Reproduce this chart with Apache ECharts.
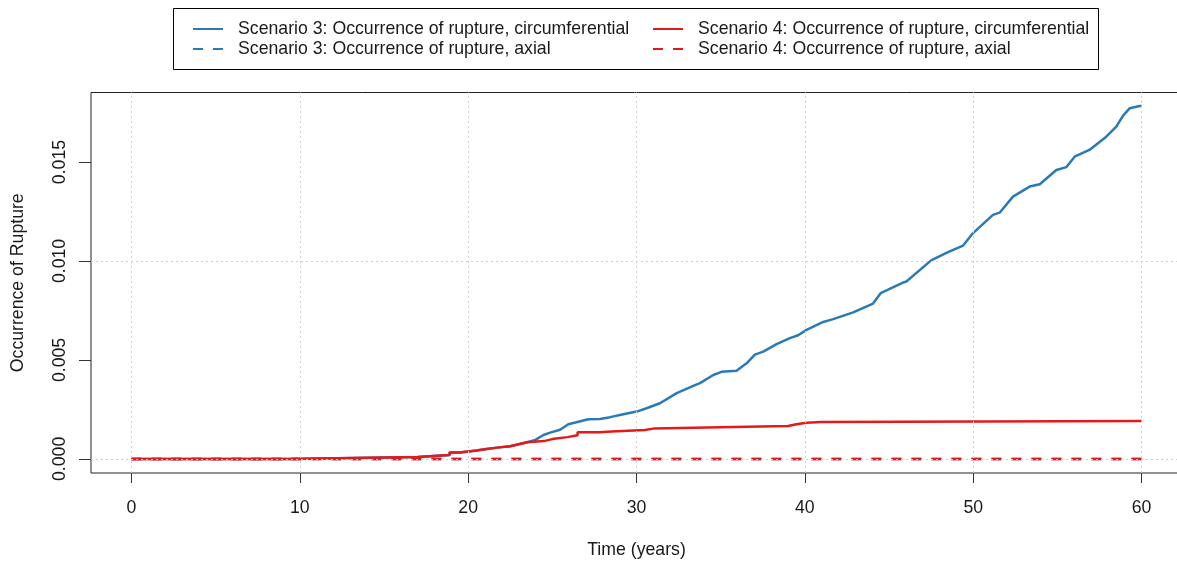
<!DOCTYPE html>
<html>
<head>
<meta charset="utf-8">
<script src="https://cdn.jsdelivr.net/npm/echarts@6/dist/echarts.min.js"></script>
<style>
  html, body { margin: 0; padding: 0; background: #fff; }
  #chart { width: 1177px; height: 562px; }
</style>
</head>
<body>
<div id="chart"></div>
<script>
// Axis ticks
const timeTicks = [0, 10, 20, 30, 40, 50, 60];
const rateTicks = [0, 0.005, 0.010, 0.015];

// Series names
const nameS3Circ = 'Scenario 3: Occurrence of rupture, circumferential';
const nameS3Axial = 'Scenario 3: Occurrence of rupture, axial';
const nameS4Circ = 'Scenario 4: Occurrence of rupture, circumferential';
const nameS4Axial = 'Scenario 4: Occurrence of rupture, axial';

// Scenario 3, circumferential: [time (years), cumulative occurrence]
const s3Circ = [
  [0, 0], [9.4, 0], [9.4, 0.0001], [17.0, 0.0001], [17.0, 0.0002], [18.9, 0.0002],
  [18.9, 0.00032], [19.5, 0.00032], [19.5, 0.00042], [20.5, 0.00042], [20.5, 0.0005],
  [21.1, 0.0005], [21.1, 0.00057], [21.7, 0.00057], [21.7, 0.00064], [22.5, 0.00064],
  [22.5, 0.00074], [23.0, 0.00074], [23.0, 0.00084], [23.5, 0.00084], [23.5, 0.0009],
  [24.0, 0.00096], [24.47, 0.00121], [24.87, 0.00133], [25.46, 0.00147], [25.95, 0.00175],
  [26.55, 0.00188], [27.14, 0.00200], [27.83, 0.00202], [28.43, 0.00211], [29.22, 0.00226],
  [30.01, 0.00239], [30.6, 0.00256], [31.39, 0.00281], [32.39, 0.00332], [33.37, 0.00369],
  [33.77, 0.00383], [34.56, 0.00424], [35.05, 0.00440], [35.94, 0.00445], [36.54, 0.00483],
  [37.03, 0.00527], [37.53, 0.00542], [38.32, 0.00580], [39.11, 0.00610], [39.6, 0.00625],
  [40.1, 0.00652], [41.09, 0.00692], [41.68, 0.00706], [42.87, 0.00740], [44.05, 0.00785],
  [44.5, 0.00837], [45.83, 0.00891], [46.03, 0.00896], [47.5, 0.01003], [48.5, 0.01045],
  [49.4, 0.01078], [49.99, 0.01141], [51.17, 0.01233], [51.57, 0.01244], [52.36, 0.01325],
  [53.35, 0.01376], [53.95, 0.01388], [54.94, 0.01460], [55.53, 0.01474], [56.02, 0.01527],
  [56.9, 0.01561], [57.9, 0.01628], [58.5, 0.01679], [58.89, 0.01733], [59.3, 0.01772],
  [59.88, 0.01783], [60, 0.01783]
];

// Scenario 4, circumferential: step values [time, value from that time on]
const s4Circ = [
  [0, 0], [9.4, 0.0001], [17.0, 0.0002], [18.9, 0.00032], [19.5, 0.00042], [20.5, 0.0005],
  [21.1, 0.00057], [21.7, 0.00064], [22.5, 0.00074], [23.0, 0.00084], [23.5, 0.0009],
  [24.5, 0.001], [25.0, 0.0011], [25.9, 0.0012], [26.5, 0.00135], [27.8, 0.00138],
  [28.5, 0.00146], [30.5, 0.00153], [31.0, 0.0016], [35.0, 0.00166], [39.0, 0.00175],
  [39.5, 0.00183], [40.1, 0.00186], [41.0, 0.00192], [60, 0.00192]
];

// Axial occurrence stays at zero in both scenarios
const s3Axial = [[0, 0], [60, 0]];
const s4Axial = [[0, 0], [60, 0]];

// Turn step values into a staircase path (hold each value until the next time)
function staircase(steps) {
  const out = [steps[0]];
  for (let i = 1; i < steps.length; i++) {
    out.push([steps[i][0], steps[i - 1][1]]);
    out.push(steps[i]);
  }
  return out;
}

const blue = '#2a7ab8';
const red = '#e31a1c';
const font = 'Liberation Sans';
const fs = 17.7;
const ink = '#1a1a1a';

const chart = echarts.init(document.getElementById('chart'), null, { renderer: 'canvas' });

const legendCommon = {
  orient: 'vertical',
  top: 20,
  padding: 0,
  itemWidth: 30,
  itemHeight: 14,
  itemGap: 2,
  selectedMode: false,
  itemStyle: { opacity: 0 },
  textStyle: { fontFamily: font, fontSize: fs, color: ink, padding: [0, 0, 0, 10] }
};

chart.setOption({
  animation: false,
  backgroundColor: '#fff',
  textStyle: { fontFamily: font },
  legend: [
    Object.assign({ left: 192, data: [nameS3Circ, nameS3Axial] }, legendCommon),
    Object.assign({ left: 652, data: [nameS4Circ, nameS4Axial] }, legendCommon)
  ],
  graphic: [{
    type: 'rect',
    shape: { x: 173.5, y: 8.5, width: 925, height: 61 },
    style: { fill: 'none', stroke: '#000', lineWidth: 1 },
    silent: true
  }],
  grid: {
    left: 91, top: 92.5, width: 1091, height: 380.5,
    show: true, borderColor: '#222', borderWidth: 1, backgroundColor: 'transparent',
    containLabel: false, outerBoundsMode: 'none'
  },
  xAxis: {
    type: 'value',
    min: -2.4, max: 62.4,
    name: 'Time (years)',
    nameLocation: 'middle',
    nameGap: 68,
    nameTextStyle: { fontFamily: font, fontSize: fs, color: ink },
    axisLine: { show: false, onZero: false },
    splitLine: { show: false },
    axisTick: { show: true, inside: false, length: 10, customValues: timeTicks, lineStyle: { color: '#333', width: 1 } },
    axisLabel: { customValues: timeTicks, margin: 26, fontFamily: font, fontSize: fs, color: ink,
      formatter: v => String(v) }
  },
  yAxis: {
    type: 'value',
    min: -0.000712, max: 0.018512,
    name: 'Occurrence of Rupture',
    nameLocation: 'middle',
    nameGap: 64,
    nameRotate: 90,
    nameTextStyle: { fontFamily: font, fontSize: fs, color: ink },
    axisLine: { show: false, onZero: false },
    splitLine: { show: false },
    axisTick: { show: true, inside: false, length: 12, customValues: rateTicks, lineStyle: { color: '#333', width: 1 } },
    axisLabel: { customValues: rateTicks, rotate: 90, margin: 22, fontFamily: font, fontSize: fs, color: ink,
      formatter: v => v.toFixed(3) }
  },
  series: [
    {
      name: 'gridlines', type: 'line', data: [], z: 1, silent: true,
      markLine: {
        silent: true, symbol: 'none', animation: false,
        label: { show: false },
        lineStyle: { color: '#d0d0d0', width: 1, type: [2, 3] },
        data: timeTicks.map(v => ({ xAxis: v })).concat(rateTicks.map(v => ({ yAxis: v })))
      }
    },
    {
      name: nameS3Circ, type: 'line', data: s3Circ, symbol: 'none', z: 3,
      lineStyle: { color: blue, width: 2.5 }, itemStyle: { color: blue }
    },
    {
      name: nameS3Axial, type: 'line', data: s3Axial, symbol: 'none', z: 3,
      lineStyle: { color: blue, width: 2.5, type: [10, 10] }, itemStyle: { color: blue }
    },
    {
      name: nameS4Circ, type: 'line', data: staircase(s4Circ), symbol: 'none', z: 4,
      lineStyle: { color: red, width: 2.5 }, itemStyle: { color: red }
    },
    {
      name: nameS4Axial, type: 'line', data: s4Axial, symbol: 'none', z: 4,
      lineStyle: { color: red, width: 2.5, type: [10, 10] }, itemStyle: { color: red }
    }
  ]
});
</script>
</body>
</html>
